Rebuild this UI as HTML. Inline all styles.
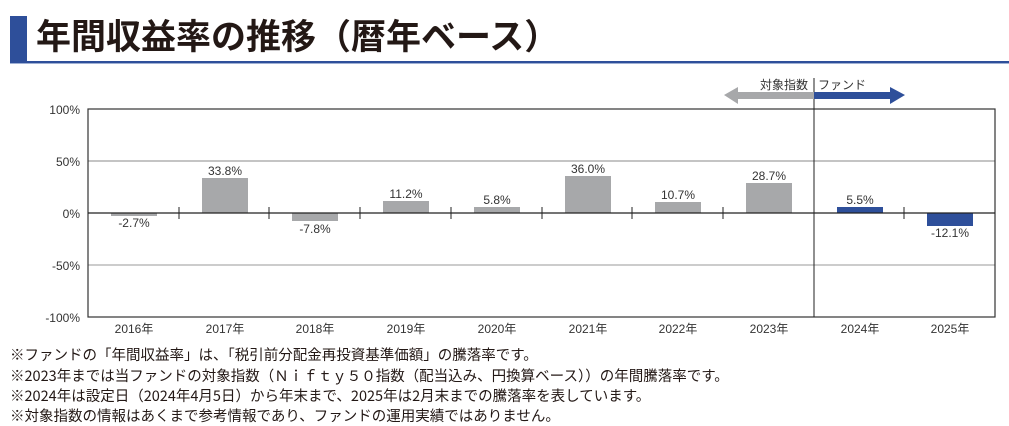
<!DOCTYPE html>
<html><head><meta charset="utf-8"><style>
body{margin:0;width:1009px;height:426px;background:#fff;overflow:hidden;font-family:"Liberation Sans","Noto Sans CJK JP",sans-serif}
.t{position:absolute;left:36px;top:9px;font-size:35px;font-weight:bold;color:#231815;letter-spacing:0px;font-family:"Noto Sans CJK JP",sans-serif}
.n{position:absolute;left:10px;font-size:14.5px;color:#231815;font-family:"Noto Sans CJK JP",sans-serif;line-height:20px}
</style></head><body>
<div style="position:absolute;left:10px;top:16px;width:17px;height:47px;background:#2e4f9a"></div>
<div style="position:absolute;left:10px;top:61px;width:999px;height:2px;background:#2e4f9a"></div>
<div style="position:absolute;left:10px;top:63px;width:999px;height:1px;background:#9fb0d4"></div>
<div class="t">年間収益率の推移（暦年ベース）</div>
<svg width="1009" height="426" style="position:absolute;left:0;top:0" font-family="Liberation Sans, Noto Sans CJK JP, sans-serif">
<g stroke="#888" stroke-width="1">
<line x1="88" y1="161" x2="995" y2="161"/><line x1="88" y1="265" x2="995" y2="265" stroke="#bbb" stroke-width="1.5"/>
</g>
<rect x="88" y="109" width="907" height="208" fill="none" stroke="#333" stroke-width="1.2"/>
<g fill="#a7a8aa">
<rect x="111" y="213" width="46" height="3"/>
<rect x="202" y="178" width="46" height="35"/>
<rect x="292" y="213" width="46" height="8"/>
<rect x="383" y="201" width="46" height="12"/>
<rect x="474" y="207" width="46" height="6"/>
<rect x="565" y="176" width="46" height="37"/>
<rect x="655" y="202" width="46" height="11"/>
<rect x="746" y="183" width="46" height="30"/>
</g>
<g fill="#2e4f9a"><rect x="837" y="207" width="46" height="6"/><rect x="927" y="213" width="46" height="13"/></g>
<line x1="88" y1="213" x2="995" y2="213" stroke="#222" stroke-width="1.3"/>
<g stroke="#222" stroke-width="1">
<line x1="179" y1="207" x2="179" y2="219"/><line x1="269" y1="207" x2="269" y2="219"/><line x1="360" y1="207" x2="360" y2="219"/><line x1="451" y1="207" x2="451" y2="219"/><line x1="542" y1="207" x2="542" y2="219"/><line x1="632" y1="207" x2="632" y2="219"/><line x1="723" y1="207" x2="723" y2="219"/><line x1="904" y1="207" x2="904" y2="219"/>
<line x1="814" y1="78" x2="814" y2="317"/>
</g>
<polygon points="724,95 738,87 738,92 814,92 814,99 738,99 738,104" fill="#a7a8aa"/>
<polygon points="814,92 890,92 890,87 905,95 890,104 890,99 814,99" fill="#2e4f9a"/>
<g font-size="12" fill="#333">
<text x="808" y="89" text-anchor="end">対象指数</text><text x="818" y="89">ファンド</text>
</g>
<g font-size="12" fill="#333" text-anchor="end">
<text x="80" y="114">100%</text><text x="80" y="166">50%</text><text x="80" y="218">0%</text><text x="80" y="270">-50%</text><text x="80" y="322">-100%</text>
</g>
<g font-size="12" fill="#333" text-anchor="middle">
<text x="134" y="227">-2.7%</text><text x="225" y="175">33.8%</text><text x="315" y="233">-7.8%</text><text x="406" y="198">11.2%</text><text x="497" y="204">5.8%</text><text x="588" y="173">36.0%</text><text x="678" y="199">10.7%</text><text x="769" y="180">28.7%</text><text x="860" y="204">5.5%</text><text x="950" y="237">-12.1%</text>
<text x="134" y="333">2016年</text><text x="225" y="333">2017年</text><text x="315" y="333">2018年</text><text x="406" y="333">2019年</text><text x="497" y="333">2020年</text><text x="588" y="333">2021年</text><text x="678" y="333">2022年</text><text x="769" y="333">2023年</text><text x="860" y="333">2024年</text><text x="950" y="333">2025年</text>
</g>
</svg>
<div class="n" style="top:345px">※ファンドの「年間収益率」は、「税引前分配金再投資基準価額」の騰落率です。</div>
<div class="n" style="top:366px">※2023年までは当ファンドの対象指数（Ｎｉｆｔｙ５０指数（配当込み、円換算ベース））の年間騰落率です。</div>
<div class="n" style="top:386px">※2024年は設定日（2024年4月5日）から年末まで、2025年は2月末までの騰落率を表しています。</div>
<div class="n" style="top:406px">※対象指数の情報はあくまで参考情報であり、ファンドの運用実績ではありません。</div>
</body></html>
